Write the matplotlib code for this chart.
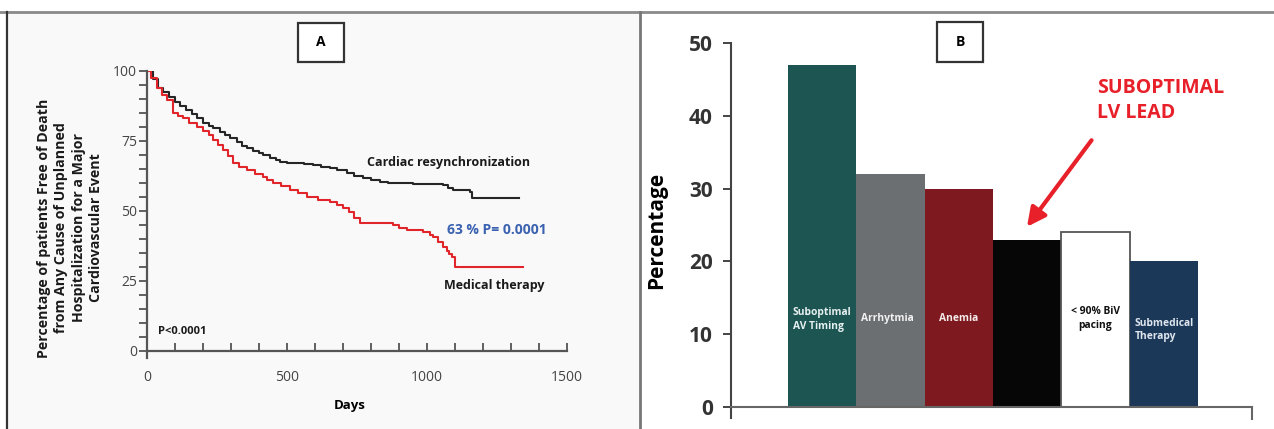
import matplotlib
matplotlib.use("Agg")
import matplotlib.pyplot as plt
from matplotlib.patches import Rectangle
from matplotlib.lines import Line2D

plt.rcParams['font.family'] = ['Open Sans', 'DejaVu Sans']
NARROW = ['Liberation Sans Narrow', 'Open Sans', 'DejaVu Sans']

# panel A: Kaplan-Meier curves (days, % event free)
crt_days = [0, 20, 40, 57, 80, 100, 118, 140, 160, 178, 200, 220, 236, 260, 280, 296,
            320, 340, 357, 380, 400, 414, 440, 460, 475, 500, 536, 560, 593, 620, 654,
            680, 714, 740, 771, 800, 832, 860, 893, 950, 1000, 1057, 1075, 1093, 1153,
            1160, 1330]
crt_pct = [100, 97, 94, 92.5, 90.5, 89, 87.5, 86, 84.5, 83, 81.5, 80.2, 79.4, 78, 77, 76,
           74.5, 73.2, 72.3, 71.2, 70.5, 70, 68.8, 68, 67.4, 67.2, 67, 66.6, 66.3, 65.8, 65.2,
           64.5, 63.5, 62.6, 61.7, 61, 60.3, 60, 60, 59.6, 59.4, 59.2, 58.2, 57.4, 56.7,
           54.6, 54.6]
med_days = [0, 15, 36, 55, 71, 93, 110, 129, 150, 178, 200, 220, 236, 255, 271, 290,
            307, 330, 357, 385, 414, 430, 450, 480, 511, 540, 571, 610, 654, 680, 700,
            720, 740, 761, 879, 900, 929, 986, 1011, 1021, 1040, 1057, 1070, 1080, 1089,
            1100, 1343]
med_pct = [100, 97.5, 94, 91.5, 89.4, 85, 84, 83, 81.5, 79.8, 78.5, 77, 75.2, 73.5, 71.6, 69.5,
           67, 65.5, 64.5, 63.2, 62, 61, 60, 58.8, 57.4, 56.2, 55, 54, 53.2, 52.2, 51,
           49.5, 47.5, 45.7, 45, 44, 43.3, 42.5, 41.5, 40.8, 39, 37.2, 35.5, 34.5, 33.7,
           29.8, 29.8]

# panel B: causes of CRT non-response
causes = ["Suboptimal\nAV Timing", "Arrhytmia", "Anemia", "", "< 90% BiV\npacing",
          "Submedical\nTherapy"]
cause_pct = [47, 32, 30, 23, 24, 20]
bar_colors = ["#1d5553", "#6b6f72", "#7e1a1f", "#060606", "#ffffff", "#1b3859"]
text_colors = ["#e6f0f0", "#f2f2f2", "#f5eaea", "#ffffff", "#111111", "#dfe6ee"]

W, H = 1274, 429
fig = plt.figure(figsize=(W / 100, H / 100), dpi=100)


def fx(px):
    return px / W


def fy(py):
    return 1 - py / H


# panel backgrounds and frame lines
fig.patches.append(Rectangle((fx(7), 0), fx(633), fy(12), transform=fig.transFigure,
                             facecolor="#f9f9f9", edgecolor="none", zorder=-5))
fig.lines.append(Line2D([0, 1], [fy(12), fy(12)], transform=fig.transFigure, color="#8a8a8a", lw=2))
fig.lines.append(Line2D([fx(7), fx(7)], [0, fy(12)], transform=fig.transFigure, color="#333333", lw=1.6))
fig.lines.append(Line2D([fx(640), fx(640)], [0, fy(12)], transform=fig.transFigure, color="#777777", lw=2))

# ---- panel A ----
ax1 = fig.add_axes([fx(147), fy(358), fx(567) - fx(147), fy(70.7) - fy(358)])
ax1.patch.set_alpha(0)
ax1.plot(crt_days, crt_pct, drawstyle="steps-post", color="#262626", lw=1.5)
ax1.plot(med_days, med_pct, drawstyle="steps-post", color="#e0262b", lw=1.5)
ax1.set_xlim(0, 1500)
ax1.set_ylim(-2.5, 100)
for s in ["top", "right"]:
    ax1.spines[s].set_visible(False)
ax1.spines["bottom"].set_position(("data", 0))
ax1.spines["left"].set_color("#555555")
ax1.spines["bottom"].set_color("#555555")
ax1.spines["left"].set_linewidth(1.6)
ax1.spines["bottom"].set_linewidth(1.6)
ax1.set_yticks([0, 25, 50, 75, 100])
ax1.set_yticks(range(0, 101, 5), minor=True)
ax1.set_xticks([0, 500, 1000, 1500])
ax1.set_xticks(range(0, 1501, 100), minor=True)
ax1.tick_params(axis="y", which="both", direction="out", length=6, width=1.3, color="#555555",
                labelsize=10, labelcolor="#444444", pad=1)
ax1.tick_params(axis="x", which="both", direction="in", length=6, width=1.3, color="#555555",
                labelsize=10, labelcolor="#444444", pad=14)
for lab in ax1.get_xticklabels() + ax1.get_yticklabels():
    lab.set_family(NARROW)

ax1.text(786, 67.4, "Cardiac resynchronization", fontsize=9, fontweight="bold",
         va="center", family=NARROW, color="#1a1a1a")
ax1.text(1071, 43.3, "63 % P= 0.0001", fontsize=10, fontweight="bold",
         va="center", family=NARROW, color="#3a62b0")
ax1.text(1061, 23.4, "Medical therapy", fontsize=9, fontweight="bold",
         va="center", family=NARROW, color="#1a1a1a")
ax1.text(39, 6.8, "P<0.0001", fontsize=8, fontweight="bold",
         va="center", family=NARROW, color="#1a1a1a")

fig.text(fx(350), fy(405), "Days", fontsize=9.5, fontweight="bold", ha="center", va="center",
         family=NARROW)
fig.text(fx(70), fy(228),
         "Percentage of patients Free of Death\nfrom Any Cause of Unplanned\n"
         "Hospitalization for a Major\nCardiovascular Event",
         rotation=90, ha="center", va="center", multialignment="center",
         fontsize=10.2, fontweight="bold", linespacing=1.3, family=NARROW, color="#1a1a1a")

# ---- panel B ----
ax2 = fig.add_axes([fx(731), fy(418), fx(1252) - fx(731), fy(43) - fy(418)])
ax2.patch.set_alpha(0)
pos = list(range(len(cause_pct)))
ax2.bar(pos, cause_pct, width=1.0, color=bar_colors, edgecolor=["none"] * 4 + ["#555555", "none"],
        linewidth=1.3)
ax2.set_xlim(-1.332, 6.29)
ax2.set_ylim(-1.5, 50)
for s in ["top", "right"]:
    ax2.spines[s].set_visible(False)
ax2.spines["bottom"].set_position(("data", 0))
ax2.spines["left"].set_color("#444444")
ax2.spines["bottom"].set_color("#666666")
ax2.spines["left"].set_linewidth(1.5)
ax2.spines["bottom"].set_linewidth(1.5)
ax2.set_yticks(range(0, 51, 10))
ax2.set_xticks([6.29])
ax2.set_xticklabels([""])
ax2.tick_params(axis="y", direction="out", length=6, width=1.4, color="#444444",
                labelsize=15, labelcolor="#333333", pad=7)
ax2.tick_params(axis="x", direction="out", length=9, width=1.5, color="#666666")
for lab in ax2.get_yticklabels():
    lab.set_family(NARROW)
    lab.set_fontweight("bold")

ax2.set_ylabel("Percentage", fontsize=15, fontweight="bold", labelpad=16)

label_y = [12.0, 12.2, 12.2, 12.2, 12.15, 10.6]
for i, name in enumerate(causes):
    if name:
        ha = "center" if i in (2, 4) else "left"
        x = i if ha == "center" else i - 0.43
        ax2.text(x, label_y[i], name, fontsize=7.4, fontweight="bold", color=text_colors[i],
                 ha=ha, va="center", family=NARROW, linespacing=1.3)

ax2.annotate("", xy=(2.974, 24.45), xytext=(3.967, 36.95),
             arrowprops=dict(arrowstyle="-|>", color="#e8202a", lw=3, mutation_scale=28))
ax2.text(4.026, 42.1, "SUBOPTIMAL\nLV LEAD", fontsize=14, fontweight="bold", color="#e8202a",
         ha="left", va="center", family=NARROW, linespacing=1.35)

# panel letter boxes
for (x0, y0, x1, y1, letter) in [(298, 23, 344, 62, "A"), (937, 22, 983, 62, "B")]:
    fig.patches.append(Rectangle((fx(x0), fy(y1)), fx(x1 - x0), (y1 - y0) / H,
                                 transform=fig.transFigure, facecolor="white",
                                 edgecolor="#333333", lw=1.6, zorder=3))
    fig.text(fx((x0 + x1) / 2), fy((y0 + y1) / 2), letter, fontsize=10, fontweight="bold",
             ha="center", va="center", zorder=4)

fig.savefig("out.png", dpi=100)
